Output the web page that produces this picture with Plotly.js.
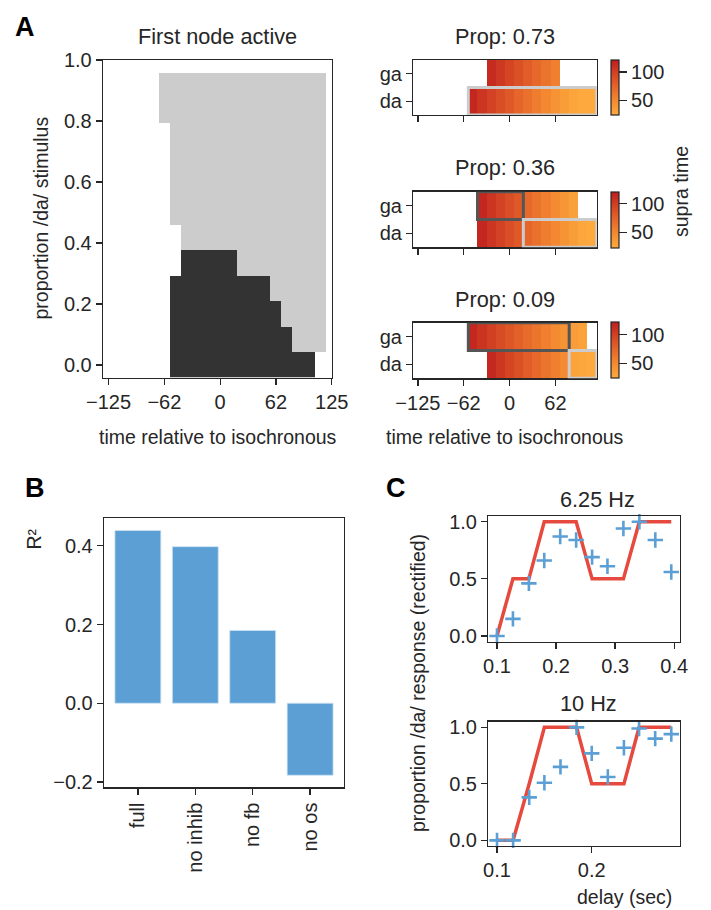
<!DOCTYPE html>
<html>
<head>
<meta charset="utf-8">
<script src="https://cdn.plot.ly/plotly-3.0.1.min.js"></script>
<style>html,body{margin:0;padding:0;background:#fff;}#chart{width:711px;height:910px;}</style>
</head>
<body>
<div id="chart"></div>
<script>
// ---------------- DATA ----------------
// Panel A (left): first node active (0 = none, 1 = /da/ first, 2 = /ga/ first)
const firstActiveTimes = [-125, -112.5, -100, -87.5, -75, -62.5, -50, -37.5, -25, -12.5, 0, 12.5, 25, 37.5, 50, 62.5, 75, 87.5, 100, 112.5, 125];
const firstActiveProps = [0, 0.0833, 0.1667, 0.25, 0.3333, 0.4167, 0.5, 0.5833, 0.6667, 0.75, 0.8333, 0.9167, 1.0];
const firstActiveGrid = [
  [0,0,0,0,0,0,2,2,2,2,2,2,2,2,2,2,2,2,2,0,0],
  [0,0,0,0,0,0,2,2,2,2,2,2,2,2,2,2,2,1,1,1,0],
  [0,0,0,0,0,0,2,2,2,2,2,2,2,2,2,2,1,1,1,1,0],
  [0,0,0,0,0,0,2,2,2,2,2,2,2,2,2,1,1,1,1,1,0],
  [0,0,0,0,0,0,0,2,2,2,2,2,1,1,1,1,1,1,1,1,0],
  [0,0,0,0,0,0,0,1,1,1,1,1,1,1,1,1,1,1,1,1,0],
  [0,0,0,0,0,0,1,1,1,1,1,1,1,1,1,1,1,1,1,1,0],
  [0,0,0,0,0,0,1,1,1,1,1,1,1,1,1,1,1,1,1,1,0],
  [0,0,0,0,0,0,1,1,1,1,1,1,1,1,1,1,1,1,1,1,0],
  [0,0,0,0,0,0,1,1,1,1,1,1,1,1,1,1,1,1,1,1,0],
  [0,0,0,0,0,1,1,1,1,1,1,1,1,1,1,1,1,1,1,1,0],
  [0,0,0,0,0,1,1,1,1,1,1,1,1,1,1,1,1,1,1,1,0],
  [0,0,0,0,0,0,0,0,0,0,0,0,0,0,0,0,0,0,0,0,0]
];

// Panel A (right): supra-threshold time per onset
const supraTimes = [-125, -112.5, -100, -87.5, -75, -62.5, -50, -37.5, -25, -12.5, 0, 12.5, 25, 37.5, 50, 62.5, 75, 87.5, 100, 112.5];
const supraNodes = ['da', 'ga'];
const supraProps = [0.73, 0.36, 0.09];
const supraGa073 = [null,null,null,null,null,null,null,null,112,104,96,88,80,72,64,56,null,null,null,null];
const supraDa073 = [null,null,null,null,null,null,115,106,98,90,82,74,66,58,50,42,34,28,25,25];
const supraGa036 = [null,null,null,null,null,null,null,115,106,98,90,82,72,64,56,48,40,32,null,null];
const supraDa036 = [null,null,null,null,null,null,null,115,106,98,90,82,74,66,58,50,42,34,26,25];
const supraGa009 = [null,null,null,null,null,null,115,107,99,91,84,77,70,63,56,49,42,35,30,null];
const supraDa009 = [null,null,null,null,null,null,null,null,114,105,96,88,80,72,64,56,48,30,26,25];
const supraTicks = [50, 100];

// Panel B
const modelNames = ['full', 'no inhib', 'no fb', 'no os'];
const r2Values = [0.439, 0.398, 0.185, -0.183];

// Panel C
const delays625 = [0.1, 0.127, 0.154, 0.180, 0.207, 0.234, 0.261, 0.287, 0.314, 0.341, 0.368, 0.395];
const model625 = [0, 0.5, 0.5, 1, 1, 1, 0.5, 0.5, 0.5, 1, 1, 1];
const data625 = [0.0, 0.15, 0.46, 0.66, 0.87, 0.84, 0.69, 0.61, 0.94, 1.0, 0.84, 0.56];
const delays10 = [0.1, 0.117, 0.134, 0.150, 0.167, 0.184, 0.200, 0.217, 0.234, 0.250, 0.267, 0.284];
const model10 = [0, 0, 0.5, 1, 1, 1, 0.5, 0.5, 0.5, 1, 1, 1];
const data10 = [0.0, 0.0, 0.38, 0.51, 0.65, 1.0, 0.77, 0.56, 0.82, 0.99, 0.90, 0.94];

// ---------------- LAYOUT HELPERS ----------------
const W = 711, H = 910;
const dx = p => p / W;
const dy = p => 1 - p / H;
const FONT = 'Liberation Sans, Arial, sans-serif';
const INK = '#262626';
const TICK = 20, LABEL = 19.5, TITLE = 21.7;

function axisBase(extra) {
  return Object.assign({
    showline: true, mirror: true, linecolor: INK, linewidth: 1.3,
    ticks: 'outside', ticklen: 6, tickwidth: 1.3, tickcolor: INK,
    showgrid: false, zeroline: false, fixedrange: true,
    tickfont: {family: FONT, size: TICK, color: INK}
  }, extra);
}

const supraScale = [[0, '#fdaa3e'], [0.25, '#f48b32'], [0.5, '#e6672a'], [0.75, '#d44424'], [1, '#bd1d1e']];
const blue = '#5b9fd5';
const red = '#e64a3e';

const traces = [];

// A left heatmap
traces.push({
  type: 'heatmap', x: firstActiveTimes, y: firstActiveProps, z: firstActiveGrid,
  zmin: 0, zmax: 2, showscale: false, hoverinfo: 'skip',
  colorscale: [[0, '#ffffff'], [0.25, '#ffffff'], [0.25, '#cccccc'], [0.75, '#cccccc'], [0.75, '#333333'], [1, '#333333']],
  xaxis: 'x', yaxis: 'y'
});

// A right heatmaps
const supraRows = [[supraDa073, supraGa073], [supraDa036, supraGa036], [supraDa009, supraGa009]];
const rightBoxes = [[60, 115], [191.7, 247.3], [322.7, 378.3]];
supraRows.forEach((rows, i) => {
  const box = rightBoxes[i];
  traces.push({
    type: 'heatmap', x: supraTimes, y: [0, 1], z: rows,
    zmin: 24, zmax: 121, colorscale: supraScale, hoverinfo: 'skip',
    xaxis: 'x' + (i + 2), yaxis: 'y' + (i + 2),
    colorbar: {
      x: dx(610.7), xanchor: 'left', y: dy((box[0] + box[1]) / 2), yanchor: 'middle',
      len: box[1] - box[0], lenmode: 'pixels', thickness: 7.6, thicknessmode: 'pixels',
      outlinewidth: 1.2, outlinecolor: INK, xpad: 0, ypad: 0,
      ticks: 'outside', ticklen: 8, tickwidth: 1.3, tickcolor: INK,
      tickvals: supraTicks, tickfont: {family: FONT, size: TICK, color: INK}
    }
  });
});

// B bars
traces.push({
  type: 'bar', x: modelNames, y: r2Values, width: 0.8,
  marker: {color: blue, line: {color: '#cfe3f3', width: 0.8}},
  hoverinfo: 'skip', xaxis: 'x5', yaxis: 'y5'
});

// C lines and markers
[[delays625, model625, data625, 6], [delays10, model10, data10, 7]].forEach(([d, m, v, k]) => {
  traces.push({type: 'scatter', mode: 'lines', x: d, y: m, line: {color: red, width: 3.5},
    hoverinfo: 'skip', xaxis: 'x' + k, yaxis: 'y' + k});
  traces.push({type: 'scatter', mode: 'markers', x: d, y: v,
    marker: {symbol: 'cross-thin', size: 11, color: blue, line: {color: blue, width: 2.6}},
    cliponaxis: false, hoverinfo: 'skip', xaxis: 'x' + k, yaxis: 'y' + k});
});

// outlines in right panels derived from the first-node-active grid
const shapes = [];
const half = (firstActiveTimes[1] - firstActiveTimes[0]) / 2;
supraProps.forEach((p, i) => {
  let k = 0, best = 1e9;
  firstActiveProps.forEach((v, j) => { if (Math.abs(v - p) < best) { best = Math.abs(v - p); k = j; } });
  const row = firstActiveGrid[k];
  let j = 0;
  while (j < row.length) {
    const v = row[j];
    if (v === 0) { j++; continue; }
    let e = j;
    while (e + 1 < row.length && row[e + 1] === v) e++;
    const isGa = v === 2;
    shapes.push({
      type: 'rect', xref: 'x' + (i + 2), yref: 'y' + (i + 2),
      x0: firstActiveTimes[j] - half, x1: firstActiveTimes[e] + half,
      y0: isGa ? 0.5 : -0.5, y1: isGa ? 1.5 : 0.5,
      line: {color: isGa ? '#555555' : '#cccccc', width: 3}, fillcolor: 'rgba(0,0,0,0)', layer: 'above'
    });
    j = e + 1;
  }
});

function ann(text, x, y, size, opts) {
  return Object.assign({text: text, x: dx(x), y: dy(y), xref: 'paper', yref: 'paper',
    showarrow: false, xanchor: 'center', yanchor: 'middle',
    font: {family: FONT, size: size, color: INK}}, opts || {});
}

const annotations = [
  ann('<b>A</b>', 25, 27, 27, {font: {family: FONT, size: 27, color: '#000'}}),
  ann('<b>B</b>', 35, 488, 27, {font: {family: FONT, size: 27, color: '#000'}}),
  ann('<b>C</b>', 396, 488, 27, {font: {family: FONT, size: 27, color: '#000'}}),
  ann('First node active', 217.5, 37, TITLE),
  ann('Prop: ' + supraProps[0].toFixed(2), 505, 37, TITLE),
  ann('Prop: ' + supraProps[1].toFixed(2), 505, 167.5, TITLE),
  ann('Prop: ' + supraProps[2].toFixed(2), 505, 300, TITLE),
  ann('proportion /da/ stimulus', 40, 218.5, LABEL, {textangle: -90}),
  ann('time relative to isochronous', 217.5, 437, LABEL),
  ann('time relative to isochronous', 505, 437, LABEL),
  ann('supra time', 681, 192, LABEL, {textangle: -90}),
  ann('R²', 33.5, 539, LABEL, {textangle: -90}),
  ann('6.25 Hz', 597.5, 499, TITLE),
  ann('10 Hz', 588, 703.5, TITLE),
  ann('proportion /da/ response (rectified)', 418, 683, LABEL, {textangle: -90}),
  ann('delay (sec)', 624, 897, LABEL)
];

const fmt1 = v => (v < 0 ? '\u2212' : '') + Math.abs(v).toFixed(1);
const timeTickVals = [-125, -62.5, 0, 62.5, 125];
const timeTickText = ['\u2212125', '\u221262', '0', '62', '125'];

const layout = {
  width: W, height: H, margin: {l: 0, r: 0, t: 0, b: 0},
  paper_bgcolor: '#fff', plot_bgcolor: '#fff', showlegend: false,
  font: {family: FONT, color: INK},
  xaxis: axisBase({domain: [dx(103), dx(332)], range: [-131.25, 125.3], anchor: 'y',
    tickvals: timeTickVals, ticktext: timeTickText}),
  yaxis: axisBase({domain: [dy(377.7), dy(60)], range: [-0.0417, 1.0], anchor: 'x',
    tickvals: [0, 0.2, 0.4, 0.6, 0.8, 1.0], ticktext: [0, 0.2, 0.4, 0.6, 0.8, 1.0].map(fmt1)}),
  xaxis5: axisBase({domain: [dx(104), dx(344)], range: [-0.59, 3.59], anchor: 'y5', type: 'category', tickangle: -90}),
  yaxis5: axisBase({domain: [dy(787.3), dy(518.3)], range: [-0.2137, 0.470], anchor: 'x5',
    tickvals: [-0.2, 0, 0.2, 0.4], ticktext: [-0.2, 0, 0.2, 0.4].map(fmt1)}),
  xaxis6: axisBase({domain: [dx(488.3), dx(680)], range: [0.0853, 0.4098], anchor: 'y6',
    tickvals: [0.1, 0.2, 0.3, 0.4], ticktext: [0.1, 0.2, 0.3, 0.4].map(fmt1)}),
  yaxis6: axisBase({domain: [dy(641.7), dy(516)], range: [-0.05, 1.05], anchor: 'x6',
    tickvals: [0, 0.5, 1], ticktext: [0, 0.5, 1].map(fmt1)}),
  xaxis7: axisBase({domain: [dx(488.3), dx(680)], range: [0.0908, 0.2932], anchor: 'y7',
    tickvals: [0.1, 0.2], ticktext: [0.1, 0.2].map(fmt1)}),
  yaxis7: axisBase({domain: [dy(846), dy(721.7)], range: [-0.05, 1.05], anchor: 'x7',
    tickvals: [0, 0.5, 1], ticktext: [0, 0.5, 1].map(fmt1)}),
  shapes: shapes,
  annotations: annotations
};

rightBoxes.forEach((box, i) => {
  const n = i + 2;
  layout['xaxis' + n] = axisBase({domain: [dx(413.3), dx(596.7)], range: [-131.25, 118.75], anchor: 'y' + n,
    tickvals: timeTickVals.slice(0, 4), ticktext: timeTickText.slice(0, 4), showticklabels: i === 2});
  layout['yaxis' + n] = axisBase({domain: [dy(box[1]), dy(box[0])], range: [-0.5, 1.5], anchor: 'x' + n,
    tickvals: [0, 1], ticktext: supraNodes});
});

Plotly.newPlot('chart', traces, layout, {staticPlot: true, displayModeBar: false});
</script>
</body>
</html>
